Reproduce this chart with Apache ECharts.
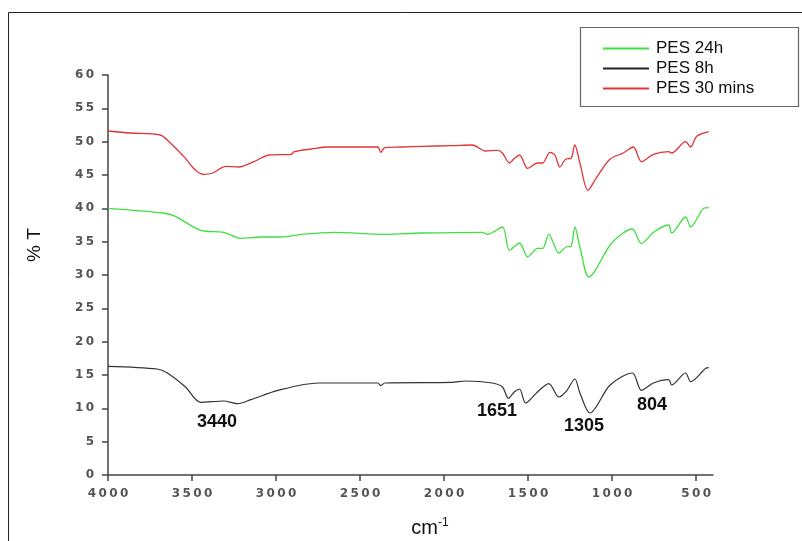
<!DOCTYPE html>
<html lang="en">
<head>
    <meta charset="UTF-8" />
    <title>FTIR PES</title>
    <script src="https://cdn.jsdelivr.net/npm/echarts@6/dist/echarts.min.js"></script>
    <style>
        html, body { margin: 0; padding: 0; background: #fff; }
    </style>
</head>
<body>
    <div id="main" style="width: 802px; height: 541px"></div>
    <script>
        var xTicks = [4000, 3500, 3000, 2500, 2000, 1500, 1000, 500];

        // PES 30 mins (red)
        var wn30 = [4000, 3868, 3689, 3629, 3539, 3479, 3431, 3377, 3300, 3222, 3132, 3042, 2910, 2892, 2790, 2689, 2395, 2377, 2353, 2251, 2132, 1952, 1832, 1754, 1683, 1653, 1611, 1581, 1551, 1503, 1443, 1413, 1371, 1341, 1311, 1275, 1245, 1222, 1192, 1144, 1096, 1012, 934, 874, 826, 754, 664, 646, 563, 533, 497, 425];
        var t30 = [51.6, 51.3, 51.0, 49.8, 47.5, 45.7, 45.1, 45.3, 46.3, 46.2, 47.0, 48.0, 48.1, 48.5, 48.9, 49.2, 49.2, 48.4, 49.1, 49.2, 49.3, 49.4, 49.5, 48.6, 48.7, 48.3, 46.8, 47.5, 48.0, 46.0, 46.8, 46.8, 48.4, 48.0, 46.2, 47.4, 47.5, 49.5, 46.8, 42.7, 44.5, 47.4, 48.3, 49.2, 47.0, 48.1, 48.5, 48.3, 50.0, 49.2, 50.8, 51.5];

        // PES 24h (green)
        var wn24 = [4000, 3671, 3599, 3449, 3311, 3210, 3090, 2970, 2850, 2653, 2353, 2132, 1772, 1742, 1653, 1611, 1551, 1503, 1443, 1413, 1377, 1317, 1275, 1245, 1222, 1192, 1138, 1012, 934, 880, 826, 754, 664, 646, 563, 533, 455, 425];
        var t24 = [40.0, 39.3, 38.8, 36.7, 36.4, 35.5, 35.7, 35.7, 36.1, 36.4, 36.1, 36.3, 36.4, 36.1, 37.2, 33.7, 34.8, 32.7, 34.0, 34.0, 36.1, 33.3, 34.2, 34.3, 37.2, 34.2, 29.7, 34.5, 36.3, 36.9, 34.7, 36.4, 37.5, 36.3, 38.7, 37.2, 40.0, 40.1];

        // PES 8h (black)
        var wn8 = [4000, 3707, 3647, 3539, 3449, 3311, 3228, 3150, 2988, 2748, 2395, 2377, 2353, 1952, 1874, 1713, 1653, 1617, 1581, 1551, 1515, 1443, 1377, 1317, 1275, 1222, 1192, 1132, 1012, 880, 826, 754, 664, 646, 563, 533, 443, 425];
        var t8 = [16.3, 15.9, 15.3, 13.2, 10.9, 11.1, 10.7, 11.3, 12.7, 13.8, 13.8, 13.4, 13.8, 13.9, 14.1, 13.8, 13.2, 11.5, 12.5, 12.9, 10.8, 12.5, 13.7, 11.7, 12.5, 14.4, 12.3, 9.3, 13.5, 15.3, 12.7, 13.8, 14.3, 13.5, 15.3, 14.0, 16.0, 16.1];

        var peakLabels = ["3440", "1651", "1305", "804"];

        function pairs(xs, ys) {
            return xs.map(function (x, i) { return [x, ys[i]]; });
        }
        function spaced(v) {
            return String(v).split("").join("\u2009");
        }

        var chart = echarts.init(document.getElementById("main"));
        var font = "'Liberation Sans', Arial, sans-serif";
        var tickFont = "'DejaVu Sans', sans-serif";

        function peak(txt, x, y) {
            return {
                type: "text", x: x, y: y,
                style: { text: txt, font: "bold 18px " + font, fill: "#111", align: "center", verticalAlign: "middle" }
            };
        }

        var option = {
            backgroundColor: "#fff",
            animation: false,
            grid: { left: 108, right: 89, top: 75, bottom: 66 },
            legend: {
                orient: "vertical",
                left: 598,
                top: 35,
                itemWidth: 46,
                itemHeight: 2,
                itemGap: 3,
                icon: "rect",
                textStyle: { fontFamily: font, fontSize: 17, color: "#111", padding: [0, 0, 0, 2] },
                data: ["PES 24h", "PES 8h", "PES 30 mins"]
            },
            xAxis: {
                type: "value",
                inverse: true,
                min: 400,
                max: 4000,
                axisLine: { onZero: false, lineStyle: { color: "#444", width: 1.5 } },
                axisTick: { show: true, length: 6, customValues: xTicks, lineStyle: { color: "#444", width: 1.5 } },
                axisLabel: {
                    customValues: xTicks,
                    formatter: spaced,
                    color: "#555",
                    fontFamily: tickFont,
                    fontSize: 12,
                    fontWeight: "bold",
                    margin: 13
                },
                splitLine: { show: false }
            },
            yAxis: {
                type: "value",
                min: 0,
                max: 60,
                interval: 5,
                axisLine: { show: true, lineStyle: { color: "#444", width: 1.5 } },
                axisTick: { show: true, length: 6, lineStyle: { color: "#444", width: 1.5 } },
                axisLabel: {
                    formatter: spaced,
                    color: "#555",
                    fontFamily: tickFont,
                    fontSize: 12,
                    fontWeight: "bold",
                    margin: 14
                },
                splitLine: { show: false }
            },
            graphic: [
                {
                    type: "rect",
                    shape: { x: 8.5, y: 12.5, width: 800, height: 540 },
                    style: { fill: "none", stroke: "#222", lineWidth: 1 },
                    silent: true
                },
                {
                    type: "rect",
                    shape: { x: 580.5, y: 27.5, width: 218, height: 79 },
                    style: { fill: "none", stroke: "#666", lineWidth: 1.2 },
                    silent: true
                },
                {
                    type: "text",
                    x: 35, y: 245,
                    rotation: Math.PI / 2,
                    style: { text: "% T", font: "19px " + font, fill: "#111", align: "center", verticalAlign: "middle" }
                },
                {
                    type: "text",
                    x: 430, y: 528,
                    style: {
                        text: "cm{s|-1}",
                        font: "20px " + font,
                        fill: "#111",
                        align: "center",
                        verticalAlign: "middle",
                        rich: { s: { fontSize: 12, verticalAlign: "top", padding: [0, 0, 10, 0], fontFamily: font } }
                    }
                },
                peak(peakLabels[0], 217, 422),
                peak(peakLabels[1], 497, 411),
                peak(peakLabels[2], 584, 426),
                peak(peakLabels[3], 652, 405)
            ],
            series: [
                {
                    name: "PES 24h",
                    type: "line",
                    data: pairs(wn24, t24),
                    showSymbol: false,
                    smooth: 0.3,
                    itemStyle: { color: "#3fe03f" },
                    lineStyle: { color: "#3fe03f", width: 1.3 }
                },
                {
                    name: "PES 8h",
                    type: "line",
                    data: pairs(wn8, t8),
                    showSymbol: false,
                    smooth: 0.3,
                    itemStyle: { color: "#222" },
                    lineStyle: { color: "#333", width: 1.2 }
                },
                {
                    name: "PES 30 mins",
                    type: "line",
                    data: pairs(wn30, t30),
                    showSymbol: false,
                    smooth: 0.3,
                    itemStyle: { color: "#e03535" },
                    lineStyle: { color: "#e03535", width: 1.3 }
                }
            ]
        };
        chart.setOption(option);
    </script>
</body>
</html>
